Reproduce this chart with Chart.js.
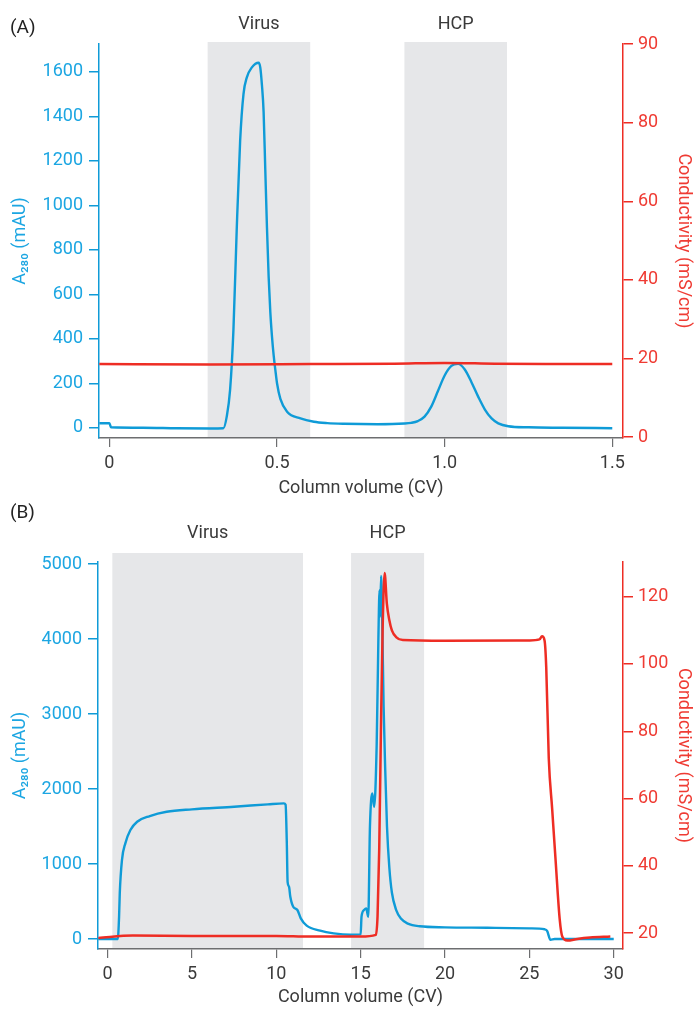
<!DOCTYPE html>
<html>
<head>
<meta charset="utf-8">
<script src="https://cdn.jsdelivr.net/npm/chart.js@4.4.1/dist/chart.umd.min.js"></script>
<style>
  body { margin: 0; background: #fff; }
  .panel { position: absolute; left: 0; width: 696px; }
</style>
</head>
<body>
<div class="panel" style="top:0;height:500px"><canvas id="chartA" width="696" height="500"></canvas></div>
<div class="panel" style="top:500px;height:509px"><canvas id="chartB" width="696" height="509"></canvas></div>
<script>
// --- Panel A data ---
const cvBlueA = [-0.03, 0.0, 0.005, 0.1, 0.2, 0.3, 0.34, 0.35, 0.36, 0.37, 0.38, 0.39, 0.40, 0.41, 0.425, 0.445, 0.45, 0.455, 0.46, 0.465, 0.47, 0.475, 0.48, 0.485, 0.49, 0.495, 0.50, 0.51, 0.53, 0.57, 0.61, 0.65, 0.7, 0.8, 0.88, 0.90, 0.92, 0.94, 0.96, 0.98, 1.00, 1.02, 1.04, 1.06, 1.08, 1.10, 1.12, 1.14, 1.16, 1.19, 1.25, 1.35, 1.5];
const a280A = [20, 20, 2, 0, -2, -3, -2, 50, 170, 440, 900, 1290, 1500, 1575, 1620, 1641, 1620, 1540, 1420, 1160, 900, 680, 520, 410, 325, 260, 200, 130, 72, 42, 27, 21, 18, 16, 19, 22, 30, 50, 95, 165, 235, 278, 287, 262, 205, 140, 82, 42, 20, 7, 2, 0, -2];
const cvRedA = [-0.03, 0.3, 0.6, 0.85, 1.0, 1.15, 1.3, 1.5];
const condA = [18.6, 18.5, 18.6, 18.7, 18.9, 18.7, 18.6, 18.6];
const xTicksA = [0, 0.5, 1.0, 1.5];
const xTickLabelsA = ['0', '0.5', '1.0', '1.5'];
const a280TicksA = [0, 200, 400, 600, 800, 1000, 1200, 1400, 1600];
const condTicksA = [0, 20, 40, 60, 80, 100];
const condTickLabelsA = ['0', '20', '40', '60', '80', '90'];
const bandStartA = [0.293, 0.880];
const bandEndA = [0.599, 1.186];
const bandLabelsA = ['Virus', 'HCP'];

// --- Panel B data ---
const cvBlueB = [-0.55, 0.6, 0.68, 0.72, 0.85, 1.05, 1.35, 1.75, 2.5, 3.5, 5.0, 7.5, 9.5, 10.45, 10.55, 10.62, 10.67, 10.75, 10.83, 11.0, 11.25, 11.45, 11.8, 12.6, 13.4, 14.4, 15.0, 15.05, 15.2, 15.33, 15.45, 15.55, 15.69, 15.8, 15.95, 16.05, 16.12, 16.16, 16.21, 16.28, 16.36, 16.45, 16.56, 16.7, 16.85, 17.1, 17.4, 17.8, 18.5, 20, 22.5, 25, 25.9, 26.05, 26.25, 26.5, 28, 30];
const a280B = [0, 0, 300, 609, 1053, 1276, 1453, 1564, 1640, 1697, 1729, 1764, 1796, 1809, 1790, 1300, 760, 700, 564, 431, 387, 276, 178, 111, 76, 58, 62, 298, 387, 409, 298, 1497, 1942, 1764, 2600, 4000, 4650, 4300, 4840, 4200, 3100, 2300, 1500, 950, 620, 390, 270, 205, 170, 156, 150, 142, 130, 110, -10, 0, 0, 0];
const cvRedB = [-0.55, 1.5, 5, 10, 12, 15, 15.9, 16.0, 16.1, 16.2, 16.3, 16.42, 16.55, 16.7, 16.85, 17.1, 17.5, 20, 25, 25.6, 25.75, 25.9, 26.0, 26.15, 26.35, 26.55, 26.8, 26.95, 27.25, 27.85, 28.6, 29.8];
const condB = [18.6, 19.3, 19.2, 19.2, 19.0, 19.0, 19.5, 25, 45, 80, 110, 127, 118, 113, 110, 108, 107.1, 106.9, 107, 107.3, 108.2, 107, 99, 72, 57, 42, 24, 19, 17.8, 18.3, 18.7, 19];
const xTicksB = [0, 5, 10, 15, 20, 25, 30];
const a280TicksB = [0, 1000, 2000, 3000, 4000, 5000];
const condTicksB = [20, 40, 60, 80, 100, 120];
const bandStartB = [0.28, 14.43];
const bandEndB = [11.58, 18.76];
const bandLabelsB = ['Virus', 'HCP'];

const BLUE = '#0f9bd7';
const BLUE_TXT = '#1ca6e2';
const RED = '#ee2d24';
const RED_TXT = '#ef3b33';
const GREY = '#6d6e70';
const FONT = 'Roboto, "Liberation Sans", sans-serif';

// grey bands + their labels + panel letter
const bandsPlugin = {
    id: 'bands',
    beforeDraw(chart, args, opts) {
        const { ctx, chartArea } = chart;
        const x = chart.scales.x;
        ctx.save();
        opts.start.forEach((s, i) => {
            const x0 = x.getPixelForValue(s);
            const x1 = x.getPixelForValue(opts.end[i]);
            const top = chartArea.top - opts.extend;
            ctx.fillStyle = '#e6e7e9';
            ctx.fillRect(x0, top, x1 - x0, chartArea.bottom - top);
            ctx.fillStyle = '#3a3a3a';
            ctx.font = '18px ' + FONT;
            ctx.textAlign = 'center';
            ctx.textBaseline = 'middle';
            ctx.fillText(opts.labels[i], (x0 + x1) / 2, opts.labelY);
        });
        ctx.fillStyle = '#222';
        ctx.font = '19px ' + FONT;
        ctx.textAlign = 'left';
        ctx.textBaseline = 'middle';
        ctx.fillText(opts.panel, 10, opts.panelY);
        ctx.restore();
    }
};

function toPoints(xs, ys) {
    return xs.map((x, i) => ({ x: x, y: ys[i] }));
}

function makeChart(id, cfg) {
    const font = { size: 18, family: FONT };
    new Chart(document.getElementById(id), {
        type: 'line',
        data: {
            datasets: [{
                data: toPoints(cfg.cvRed, cfg.cond),
                yAxisID: 'y2',
                borderColor: RED,
                borderWidth: 2.5,
                pointRadius: 0,
                cubicInterpolationMode: 'monotone'
            }, {
                data: toPoints(cfg.cvBlue, cfg.a280),
                yAxisID: 'y',
                borderColor: BLUE,
                borderWidth: 2.4,
                pointRadius: 0,
                cubicInterpolationMode: 'monotone'
            }]
        },
        options: {
            responsive: false,
            animation: false,
            devicePixelRatio: 1,
            layout: { padding: { top: cfg.padTop, left: 0, right: 0, bottom: 0 } },
            plugins: {
                legend: { display: false },
                tooltip: { enabled: false },
                bands: cfg.bands
            },
            scales: {
                x: {
                    type: 'linear',
                    min: cfg.xMin, max: cfg.xMax,
                    afterBuildTicks: s => { s.ticks = cfg.xTicks.map(v => ({ value: v })); },
                    afterFit: s => { s.height = cfg.xHeight; },
                    grid: { drawOnChartArea: false, color: GREY, tickLength: 9, lineWidth: 1.2 },
                    border: { color: GREY, width: 1.5 },
                    ticks: { color: '#3a3a3a', font: font, padding: 6, maxRotation: 0,
                        callback: (v, i) => cfg.xLabels[i] },
                    title: { display: true, text: 'Column volume (CV)', color: '#3a3a3a', font: font,
                        padding: { top: 0, bottom: 1 } }
                },
                y: {
                    position: 'left',
                    min: cfg.yMin, max: cfg.yMax,
                    afterBuildTicks: s => { s.ticks = cfg.yTicks.map(v => ({ value: v })); },
                    afterFit: s => { s.width = cfg.leftW; },
                    grid: { drawOnChartArea: false, color: BLUE, tickLength: 10, lineWidth: 1.5 },
                    border: { color: BLUE, width: 1.5 },
                    ticks: { color: BLUE_TXT, font: font, padding: 6, callback: v => String(v) },
                    title: { display: true, text: 'A₂₈₀ (mAU)', color: BLUE_TXT, font: font,
                        padding: { top: 10, bottom: 0 } }
                },
                y2: {
                    position: 'right',
                    min: cfg.y2Min, max: cfg.y2Max,
                    afterBuildTicks: s => { s.ticks = cfg.y2Ticks.map(v => ({ value: v })); },
                    afterFit: s => { s.width = cfg.rightW; },
                    grid: { drawOnChartArea: false, color: RED, tickLength: 10, lineWidth: 1.5 },
                    border: { color: RED, width: 1.5 },
                    ticks: { color: RED_TXT, font: font, padding: 5,
                        callback: (v, i) => cfg.y2Labels[i] },
                    title: { display: true, text: 'Conductivity (mS/cm)', color: RED_TXT, font: font,
                        padding: { top: 2, bottom: 0 } }
                }
            }
        },
        plugins: [bandsPlugin]
    });
}

// Graphique A
makeChart('chartA', {
    cvBlue: cvBlueA, a280: a280A, cvRed: cvRedA, cond: condA,
    xMin: -0.031, xMax: 1.532, xTicks: xTicksA, xLabels: xTickLabelsA,
    yMin: -46, yMax: 1725, yTicks: a280TicksA,
    y2Min: -0.2, y2Max: 100, y2Ticks: condTicksA, y2Labels: condTickLabelsA,
    padTop: 44, xHeight: 62, leftW: 99, rightW: 73,
    bands: { start: bandStartA, end: bandEndA, labels: bandLabelsA, extend: 2,
        labelY: 24, panel: '(A)', panelY: 28 }
});

// Graphique B
makeChart('chartB', {
    cvBlue: cvBlueB, a280: a280B, cvRed: cvRedB, cond: condB,
    xMin: -0.57, xMax: 30.55, xTicks: xTicksB, xLabels: xTicksB.map(String),
    yMin: -133, yMax: 5027, yTicks: a280TicksB,
    y2Min: 15.3, y2Max: 130.3, y2Ticks: condTicksB, y2Labels: condTicksB.map(String),
    padTop: 62, xHeight: 60, leftW: 98, rightW: 73,
    bands: { start: bandStartB, end: bandEndB, labels: bandLabelsB, extend: 9,
        labelY: 33, panel: '(B)', panelY: 13 }
});
</script>
</body>
</html>
